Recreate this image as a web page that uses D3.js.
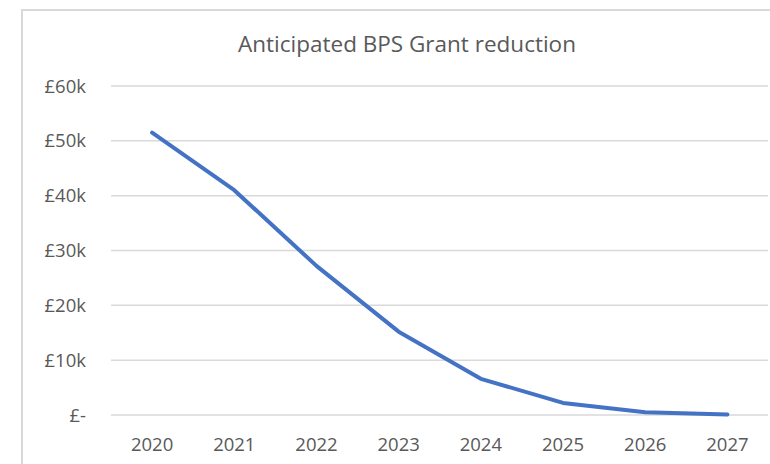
<!DOCTYPE html>
<html>
<head>
<meta charset="utf-8">
<script src="https://cdn.jsdelivr.net/npm/d3@7"></script>
<style>
  body { margin: 0; background: #fff; }
  text { font-family: "Open Sans", "Noto Sans", sans-serif; fill: #595959; }
</style>
</head>
<body>
<svg id="chart" width="770" height="464"></svg>
<script>
const years = ["2020", "2021", "2022", "2023", "2024", "2025", "2026", "2027"]
const grant = [51500, 41000, 27200, 15200, 6600, 2200, 500, 100]
const yTicks = [0, 10000, 20000, 30000, 40000, 50000, 60000]
const title = "Anticipated BPS Grant reduction"

const svg = d3.select("#chart")

// chart frame, clipped on right and bottom like the screenshot
svg.append("rect")
  .attr("x", 22).attr("y", 10)
  .attr("width", 800).attr("height", 500)
  .attr("fill", "#fff")
  .attr("stroke", "#d9d9d9")
  .attr("stroke-width", 2)

let x = d3.scaleBand()
  .domain(years)
  .range([111, 768.5])

let y = d3.scaleLinear()
  .domain([0, 60000])
  .range([415, 86])

// gridlines
svg.append("g")
  .selectAll("line")
  .data(yTicks).enter()
  .append("line")
  .attr("x1", 111).attr("x2", 768)
  .attr("y1", d => y(d))
  .attr("y2", d => y(d))
  .attr("stroke", "#d9d9d9")
  .attr("stroke-width", 1.5)

// y labels
svg.append("g")
  .selectAll("text")
  .data(yTicks).enter()
  .append("text")
  .attr("x", 86)
  .attr("y", d => y(d))
  .attr("dy", "0.36em")
  .attr("text-anchor", "end")
  .attr("font-size", 18.5)
  .text(d => d == 0 ? "£-" : "£" + d / 1000 + "k")

// x labels
svg.append("g")
  .selectAll("text")
  .data(years).enter()
  .append("text")
  .attr("x", d => x(d) + x.bandwidth() / 2)
  .attr("y", 451)
  .attr("text-anchor", "middle")
  .attr("font-size", 18.5)
  .text(d => d)

// line
let line_gen = d3.line()
  .x((d, i) => x(years[i]) + x.bandwidth() / 2)
  .y(d => y(d))

svg.append("path")
  .datum(grant)
  .attr("d", line_gen)
  .attr("fill", "none")
  .attr("stroke", "#4472c4")
  .attr("stroke-width", 4)
  .attr("stroke-linecap", "round")
  .attr("stroke-linejoin", "round")

// title
svg.append("text")
  .attr("x", 407)
  .attr("y", 52)
  .attr("text-anchor", "middle")
  .attr("font-size", 22.5)
  .text(title)
</script>
</body>
</html>
